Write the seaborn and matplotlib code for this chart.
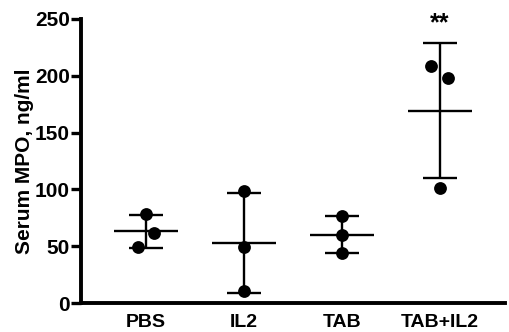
import matplotlib
matplotlib.use("Agg")
import matplotlib.pyplot as plt
import numpy as np
import pandas as pd
import seaborn as sns

groups = ["PBS", "IL2", "TAB", "TAB+IL2"]
pbs = [78, 62, 49]
il2 = [99, 49, 11]
tab = [77, 60, 44]
tab_il2 = [209, 198, 101]
significance = ["", "", "", "**"]

# horizontal scatter of the dots inside each group (layout only)
dot_shift = {
    "PBS": [0.0, 0.08, -0.08],
    "IL2": [0.0, 0.0, 0.0],
    "TAB": [0.0, 0.0, 0.0],
    "TAB+IL2": [-0.09, 0.08, 0.0],
}

rows = []
for gi, (g, vals) in enumerate(zip(groups, [pbs, il2, tab, tab_il2])):
    for v, s in zip(vals, dot_shift[g]):
        rows.append({"group": g, "pos": gi + s, "value": v})
df = pd.DataFrame(rows)

stats = df.groupby("group", sort=False)["value"].agg(["mean", "std"]).reindex(groups)

sns.set_theme(style="ticks", rc={
    "axes.edgecolor": "black",
    "axes.labelcolor": "black",
    "text.color": "black",
    "xtick.color": "black",
    "ytick.color": "black",
})
plt.rcParams["font.family"] = ["Liberation Sans", "DejaVu Sans"]
plt.rcParams["font.weight"] = "bold"

fig = plt.figure(figsize=(5.1, 3.32), dpi=100)
ax = fig.add_axes([0.159, 0.087, 0.831, 0.856])

sns.scatterplot(data=df, x="pos", y="value", color="black", s=85,
                edgecolor="black", linewidth=0, ax=ax, zorder=3, legend=False)

x = np.arange(len(groups))
ax.errorbar(x, stats["mean"], yerr=stats["std"], fmt="none", ecolor="black",
            elinewidth=1.7, capsize=12.5, capthick=1.7, zorder=2)
ax.hlines(stats["mean"], x - 0.33, x + 0.33, color="black", linewidth=1.7, zorder=2)

for xi, lab in enumerate(significance):
    if lab:
        ax.text(xi, 236, lab, ha="center", va="bottom", fontsize=18, fontweight="bold")

ax.set_xlim(-0.663, 3.663)
ax.set_ylim(0, 250)
ax.set_yticks([0, 50, 100, 150, 200, 250])
ax.set_xticks(x)
ax.set_xticklabels(groups)
ax.set_xlabel("")
ax.set_ylabel("Serum MPO, ng/ml", fontsize=15, fontweight="bold", labelpad=1)
ax.tick_params(axis="y", length=7, width=2.4, labelsize=15, pad=1)
ax.tick_params(axis="x", length=0, labelsize=14, pad=8)
for lbl in ax.get_xticklabels() + ax.get_yticklabels():
    lbl.set_fontweight("bold")
for side in ["top", "right"]:
    ax.spines[side].set_visible(False)
for side in ["left", "bottom"]:
    ax.spines[side].set_linewidth(2.8)
ax.spines["left"].set_bounds(0, 250)

fig.savefig("out.png", dpi=100)
plt.close(fig)
